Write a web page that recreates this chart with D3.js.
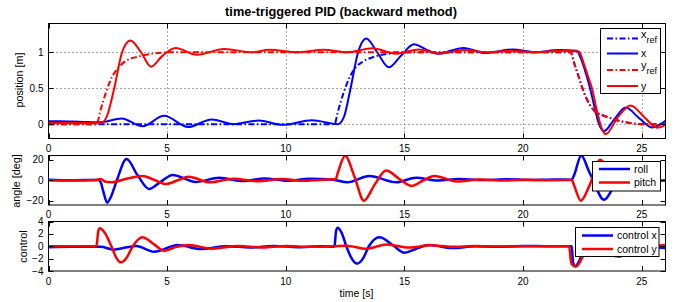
<!DOCTYPE html>
<html><head><meta charset="utf-8">
<script src="https://cdn.jsdelivr.net/npm/d3@7"></script>
<style>body{margin:0;background:#fff} svg{display:block} text{font-family:"Liberation Sans",Arial,sans-serif;fill:#000}</style>
</head><body><svg id="c" width="681" height="302"></svg>
<script>
// ---------- data ----------
const xTicks = [0, 5, 10, 15, 20, 25];
const posTicks = [0, 0.5, 1];
const angTicks = [-20, 0, 20];
const ctlTicks = [-4, -2, 0, 2, 4];

const xRef = [[0,0],[12.05,0],[12.2,0.18],[12.45,0.45],[12.7,0.66],[12.95,0.79],[13.25,0.87],[13.75,0.94],[14.45,0.985],[15.1,1.0],[22.0,1.0],[22.15,0.85],[22.3,0.70],[22.64,0.38],[22.99,0.19],[23.55,0.10],[24.25,0.03],[25.0,0.0],[26,0]];
const xPos = [[0,0.04],[0.5,0.04],[1.0,0.035],[1.5,0.03],[2.0,0.025],[2.3,0.03],[3.08,0.08],[3.96,-0.03],[4.87,0.115],[5.88,-0.04],[6.87,0.065],[7.8,0.0],[8.85,0.05],[9.9,-0.01],[11.1,0.055],[12.2,0.0],[12.45,0.1],[12.73,0.5],[13.03,0.98],[13.39,1.19],[13.85,1.0],[14.34,0.79],[14.85,0.95],[15.4,1.11],[15.9,1.04],[16.4,0.98],[17.48,1.06],[18.43,0.99],[19.55,1.04],[20.5,1.0],[21.5,1.03],[22.25,1.02],[22.45,0.9],[22.65,0.7],[22.82,0.5],[23.0,0.25],[23.2,0.0],[23.41,-0.097],[23.85,0.07],[24.32,0.23],[24.9,0.08],[25.44,-0.046],[26,0.045]];
const yRef = [[0,0],[2.03,0],[2.18,0.18],[2.45,0.47],[2.68,0.66],[2.93,0.78],[3.22,0.87],[3.78,0.94],[4.5,0.985],[5.1,1.0],[22.0,1.0],[22.15,0.85],[22.3,0.70],[22.64,0.38],[22.99,0.19],[23.55,0.10],[24.25,0.03],[25.0,0.0],[26,0]];
const yPos = [[0,0.02],[1,0.015],[2.0,0.015],[2.3,0.03],[2.45,0.1],[2.77,0.5],[3.1,1.0],[3.45,1.165],[3.9,1.0],[4.32,0.80],[4.8,0.95],[5.35,1.06],[6.25,0.965],[7.4,1.045],[8.6,1.0],[9.3,1.035],[10.5,1.0],[11.6,1.035],[12.6,1.0],[13.65,1.055],[14.65,0.98],[15.6,1.04],[16.5,0.98],[17.5,1.03],[18.5,1.0],[19.5,1.02],[20.5,1.0],[21.5,1.02],[22.35,1.01],[22.55,0.85],[22.75,0.65],[22.9,0.5],[23.1,0.2],[23.3,-0.05],[23.48,-0.14],[24.0,0.1],[24.53,0.26],[25.1,0.1],[25.65,-0.05],[26,-0.01]];

const roll = [[0,0.5],[1,0],[2.1,0.3],[2.2,-2],[2.3,-10],[2.47,-21.7],[2.65,-15],[2.88,0],[3.29,20.5],[3.75,5],[4.24,-8.4],[4.7,-2],[5.23,5.2],[6.2,-1.6],[7.2,2.4],[8.2,-0.8],[9.1,1.8],[10.1,-0.5],[11.0,1.5],[12.0,0.5],[12.6,-2],[13.52,4.2],[14.65,-2],[15.49,2.4],[16.4,-0.3],[17.3,1.2],[18.3,0.2],[19.3,1.0],[20.3,0.3],[21.3,0.8],[22.05,0.5],[22.15,5],[22.45,24],[22.75,10],[22.95,0],[23.41,-19],[23.85,-5],[24.3,9],[24.8,2],[25.3,-4],[25.7,-1],[26,0]];
const pitch = [[0,0],[1,-0.3],[2.0,0.2],[2.2,1.3],[2.4,-1.5],[2.66,-1.9],[3.3,1.5],[3.95,4.2],[4.45,0.5],[4.95,-3.6],[5.45,0],[5.9,3.4],[6.8,-2.0],[7.8,1.5],[8.8,-1.0],[9.8,1.2],[10.8,-0.6],[11.8,0.8],[12.1,1],[12.2,8],[12.5,23.7],[12.9,3],[13.29,-19.8],[13.75,-4],[14.23,9.4],[14.8,1],[15.3,-5.5],[15.8,0],[16.26,4.2],[17.2,-1.2],[18.2,0.8],[19.2,-0.3],[20.2,0.6],[21.2,0],[22.05,0.3],[22.15,-5],[22.43,-19.8],[22.8,-5],[23.25,20],[23.7,6],[24.2,-8],[24.7,-1],[25.2,4],[25.7,0.5],[26,-0.5]];

const ctlX = [[0,-0.15],[1,-0.1],[2.0,-0.1],[2.2,-0.1],[2.75,-0.55],[3.0,-0.4],[3.7,0.05],[4.45,-0.9],[5.45,0.2],[6.4,-0.45],[7.5,0.0],[8.5,-0.2],[9.5,0.05],[10.5,-0.15],[11.5,0.0],[12.0,-0.1],[12.05,0],[12.12,2.5],[12.19,3.0],[12.35,2.2],[12.55,0.0],[12.75,-1.8],[13.0,-2.8],[13.25,-2.0],[13.5,0],[13.95,1.45],[14.5,0.2],[15.0,-1.05],[15.5,-0.4],[16.05,0.2],[17.0,-0.3],[18.0,0.0],[19.0,-0.1],[20.0,0.05],[21.0,0.0],[22.05,0.0],[22.1,-2.5],[22.2,-3.2],[22.35,-2.5],[22.6,0],[23.05,2.5],[23.5,0.5],[23.9,-1.6],[24.4,-0.3],[24.9,0.6],[25.4,0],[26,-0.3]];
const ctlY = [[0,0],[1,0],[2.0,0],[2.03,0.2],[2.1,2.5],[2.17,2.92],[2.35,2.3],[2.66,-0.1],[2.85,-1.8],[3.04,-2.6],[3.3,-1.8],[3.55,0],[3.96,1.45],[4.45,0.3],[4.87,-0.73],[5.4,-0.1],[5.9,0.2],[6.9,-0.4],[8.0,0.05],[9.0,-0.2],[10.0,0.05],[11.0,-0.1],[12.0,0],[12.55,0.1],[13.4,-0.4],[14.25,0.3],[15.2,-0.2],[16.1,0.15],[17.0,-0.1],[18,0.05],[19,-0.05],[20,0],[21,0],[21.94,0.0],[22.0,-2.0],[22.05,-2.9],[22.22,-3.3],[22.4,-2.5],[22.7,0],[23.1,2.5],[23.5,0.5],[24.05,-1.7],[24.5,-0.3],[25.0,0.7],[25.5,0.1],[26,0.2]];

// ---------- layout ----------
const svg = d3.select("#c");
const L = 48.5, R = 665.5;
const x = d3.scaleLinear().domain([0, 26]).range([L, R]);
const BLUE = "#0000ff", RED = "#ff0000";
const DASHDOT = "6,2.5,1.5,2.5";
const fmt = d3.format("");

svg.append("text").attr("x", 341).attr("y", 16).attr("text-anchor", "middle")
  .style("font-weight", "bold").style("font-size", "12.8px")
  .text("time-triggered PID (backward method)");

const panels = [
  { top: 23.5, bottom: 138.5, domain: [-0.2, 1.4], ticks: posTicks, grid: true, tickFmt: d3.format(""),
    label: "position [m]", labelX: 23, labelY: 80, width: 2,
    series: [ {d: xRef, c: BLUE, dash: DASHDOT}, {d: xPos, c: BLUE}, {d: yRef, c: RED, dash: DASHDOT}, {d: yPos, c: RED} ],
    legend: { x0: 600.5, y0: 28.5, w: 60, h: 65, lx0: 607, lx1: 638, tx: 641,
      items: [ {name: "x", sub: "ref", c: BLUE, dash: DASHDOT, y: 38.5}, {name: "x", c: BLUE, y: 53.5}, {name: "y", sub: "ref", c: RED, dash: DASHDOT, y: 70}, {name: "y", c: RED, y: 86} ] },
    xlabY: 151.5 },
  { top: 155.5, bottom: 205, domain: [-24, 24], ticks: angTicks, grid: false, tickFmt: d3.format(""),
    label: "angle [deg]", labelX: 19.5, labelY: 181, width: 2.5,
    series: [ {d: roll, c: BLUE}, {d: pitch, c: RED} ],
    legend: { x0: 592.5, y0: 161.5, w: 68, h: 29.5, lx0: 599, lx1: 630, tx: 634,
      items: [ {name: "roll", c: BLUE, y: 169}, {name: "pitch", c: RED, y: 182.5} ] },
    xlabY: 218 },
  { top: 221.5, bottom: 271, domain: [-4, 4], ticks: ctlTicks, grid: false, tickFmt: d3.format(""),
    label: "control", labelX: 26.5, labelY: 246.5, width: 2.5,
    series: [ {d: ctlX, c: BLUE}, {d: ctlY, c: RED} ],
    legend: { x0: 575.5, y0: 227.5, w: 83.5, h: 29, lx0: 582, lx1: 613, tx: 617,
      items: [ {name: "control x", c: BLUE, y: 235.5}, {name: "control y", c: RED, y: 249} ] },
    xlabY: 284.5 }
];

panels.forEach((p, i) => {
  const y = d3.scaleLinear().domain(p.domain).range([p.bottom, p.top]);
  const g = svg.append("g");
  const cid = "clip" + i;
  svg.append("clipPath").attr("id", cid).append("rect")
    .attr("x", L).attr("y", p.top).attr("width", R - L).attr("height", p.bottom - p.top);

  if (p.grid) {
    g.selectAll(".gx").data(xTicks.filter(t => t > 0)).enter().append("line")
      .attr("x1", d => Math.round(x(d)) + 0.5).attr("x2", d => Math.round(x(d)) + 0.5)
      .attr("y1", p.top).attr("y2", p.bottom)
      .attr("stroke", "#555").attr("stroke-width", 1).attr("stroke-dasharray", "1,3");
    g.selectAll(".gy").data(p.ticks).enter().append("line")
      .attr("y1", d => Math.round(y(d)) + 0.5).attr("y2", d => Math.round(y(d)) + 0.5)
      .attr("x1", L).attr("x2", R)
      .attr("stroke", "#555").attr("stroke-width", 1).attr("stroke-dasharray", "1,3");
  }

  const line = d3.line().x(d => x(d[0])).y(d => y(d[1])).curve(d3.curveMonotoneX);
  const lg = g.append("g").attr("clip-path", `url(#${cid})`);
  p.series.forEach(s => {
    lg.append("path").attr("d", line(s.d)).attr("fill", "none")
      .attr("stroke", s.c).attr("stroke-width", p.width)
      .attr("stroke-dasharray", s.dash || null).attr("stroke-linejoin", "round");
  });

  // frame
  g.append("rect").attr("x", L).attr("y", p.top).attr("width", R - L).attr("height", p.bottom - p.top)
    .attr("fill", "none").attr("stroke", "#000").attr("stroke-width", 1);

  // x ticks (bottom & top, inward)
  const TL = 5;
  xTicks.forEach(t => {
    const xx = Math.round(x(t)) + 0.5;
    g.append("line").attr("x1", xx).attr("x2", xx).attr("y1", p.bottom).attr("y2", p.bottom - TL).attr("stroke", "#000");
    g.append("line").attr("x1", xx).attr("x2", xx).attr("y1", p.top).attr("y2", p.top + TL).attr("stroke", "#000");
    g.append("text").attr("x", x(t)).attr("y", p.xlabY).attr("text-anchor", "middle")
      .style("font-size", "10px").text(fmt(t));
  });
  // y ticks (left & right)
  p.ticks.forEach(t => {
    const yy = Math.round(y(t)) + 0.5;
    g.append("line").attr("y1", yy).attr("y2", yy).attr("x1", L).attr("x2", L + TL).attr("stroke", "#000");
    g.append("line").attr("y1", yy).attr("y2", yy).attr("x1", R).attr("x2", R - TL).attr("stroke", "#000");
    g.append("text").attr("x", L - 5).attr("y", y(t)).attr("dy", "0.35em").attr("text-anchor", "end")
      .style("font-size", "10px").text(p.tickFmt(t));
  });

  // y label
  g.append("text").attr("transform", `translate(${p.labelX},${p.labelY}) rotate(-90)`)
    .attr("text-anchor", "middle").style("font-size", "10.8px").text(p.label);

  // legend
  const lgd = p.legend;
  const leg = svg.append("g");
  leg.append("rect").attr("x", lgd.x0).attr("y", lgd.y0).attr("width", lgd.w).attr("height", lgd.h)
    .attr("fill", "#fff").attr("stroke", "#000").attr("stroke-width", 1);
  lgd.items.forEach(it => {
    leg.append("line").attr("x1", lgd.lx0).attr("x2", lgd.lx1).attr("y1", it.y).attr("y2", it.y)
      .attr("stroke", it.c).attr("stroke-width", p.width).attr("stroke-dasharray", it.dash || null);
    if (it.sub) {
      const t = leg.append("text").attr("x", lgd.tx).attr("y", it.y - 1).style("font-size", "11px");
      t.append("tspan").text(it.name);
      t.append("tspan").attr("dy", 5).style("font-size", "9px").text(it.sub);
    } else {
      leg.append("text").attr("x", lgd.tx).attr("y", it.y).attr("dy", "0.35em").style("font-size", "10.5px").text(it.name);
    }
  });
});

svg.append("text").attr("x", 356.5).attr("y", 296.5).attr("text-anchor", "middle")
  .style("font-size", "10.5px").text("time [s]");
</script></body></html>
